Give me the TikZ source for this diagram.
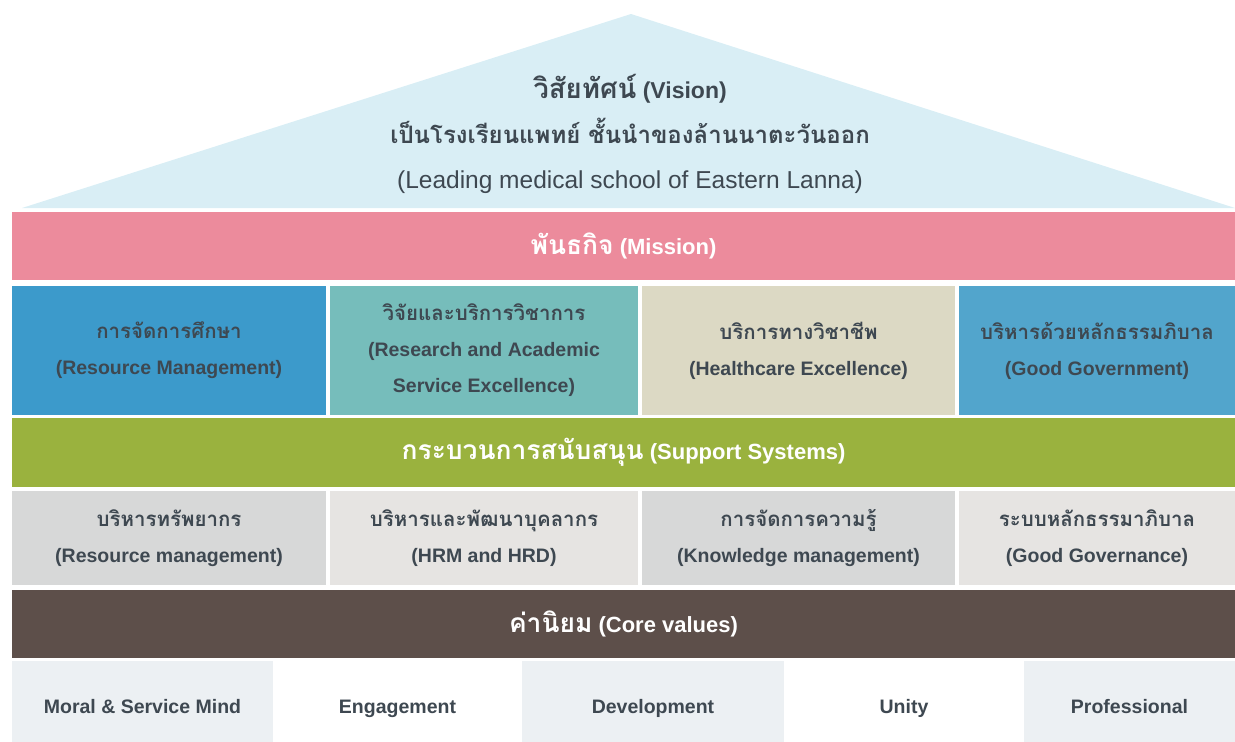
\documentclass[tikz,border=0pt]{standalone}
\usepackage{fontspec}
\setmainfont{Liberation Sans}
\newfontfamily\thaifont[Script=Thai,Scale=1.2]{Loma}
\newfontfamily\thaicell[Script=Thai,Scale=1.05]{Loma}
\newcommand\thx[1]{{\thaifont #1}}
\newcommand\thc[1]{{\thaicell #1}}
\definecolor{roofc}{HTML}{D9EEF5}
\definecolor{pinkc}{HTML}{EC8B9C}
\definecolor{blueA}{HTML}{3C9ACB}
\definecolor{tealc}{HTML}{76BDBB}
\definecolor{beigec}{HTML}{DCD9C4}
\definecolor{blueB}{HTML}{52A5CC}
\definecolor{greenc}{HTML}{9AB23E}
\definecolor{greyA}{HTML}{D7D8D8}
\definecolor{greyB}{HTML}{E6E4E2}
\definecolor{brownc}{HTML}{5D4F4A}
\definecolor{corel}{HTML}{ECF0F3}
\definecolor{txt}{HTML}{3E4851}
\begin{document}
\begin{tikzpicture}[x=1pt,y=-1pt,
  box/.style={inner sep=0pt, outer sep=0pt, align=center, text=txt,
    font=\fontsize{19.5}{36}\selectfont\bfseries},
  band/.style={box, text=white, minimum width=1223, font=\fontsize{22}{25}\selectfont\bfseries},
  mcell/.style={box, minimum height=129},
  scell/.style={box, minimum height=94},
  ccell/.style={box, minimum height=81, text height=23pt, text depth=0pt,
    font=\fontsize{19.5}{23}\selectfont\bfseries}
]
\useasboundingbox (0,0) rectangle (1235,742);
% roof
\coordinate (rl) at (22,208);
\coordinate (apex) at (631,14);
\coordinate (rr) at (1235,208);
\fill[roofc] (rl) -- (apex) -- (rr) -- cycle;
\node[box, font=\fontsize{24.5}{45}\selectfont] (vision) at (630,134)
  {{\bfseries\fontsize{23}{45}\selectfont\thx{วิสัยทัศน์} (Vision)}\\
   {\bfseries\fontsize{20}{45}\selectfont\thx{เป็นโรงเรียนแพทย์ ชั้นนำของล้านนาตะวันออก}}\\
   (Leading medical school of Eastern Lanna)};
% mission band
\node[band, fill=pinkc, minimum height=68] (mission) at (623.5,246) {\thx{พันธกิจ} (Mission)};
\node[mcell, fill=blueA, minimum width=314] (m1) at (169,350.5) {\thc{การจัดการศึกษา}\\(Resource Management)};
\node[mcell, fill=tealc, minimum width=308] (m2) at (484,350.5) {\thc{วิจัยและบริการวิชาการ}\\(Research and Academic\\Service Excellence)};
\node[mcell, fill=beigec, minimum width=313] (m3) at (798.5,350.5) {\thc{บริการทางวิชาชีพ}\\(Healthcare Excellence)};
\node[mcell, fill=blueB, minimum width=276] (m4) at (1097,350.5) {\thc{บริหารด้วยหลักธรรมภิบาล}\\(Good Government)};
% support band
\node[band, fill=greenc, minimum height=69] (support) at (623.5,452.5) {\thx{กระบวนการสนับสนุน} (Support Systems)};
\node[scell, fill=greyA, minimum width=314] (s1) at (169,538) {\thc{บริหารทรัพยากร}\\(Resource management)};
\node[scell, fill=greyB, minimum width=308] (s2) at (484,538) {\thc{บริหารและพัฒนาบุคลากร}\\(HRM and HRD)};
\node[scell, fill=greyA, minimum width=313] (s3) at (798.5,538) {\thc{การจัดการความรู้}\\(Knowledge management)};
\node[scell, fill=greyB, minimum width=276] (s4) at (1097,538) {\thc{ระบบหลักธรรมาภิบาล}\\(Good Governance)};
% core values band
\node[band, fill=brownc, minimum height=68] (core) at (623.5,624) {\thx{ค่านิยม} (Core values)};
\node[ccell, fill=corel, minimum width=261] (c1) at (142.5,701.5) {Moral \& Service Mind};
\node[ccell, fill=white, minimum width=249] (c2) at (397.5,701.5) {Engagement};
\node[ccell, fill=corel, minimum width=262] (c3) at (653,701.5) {Development};
\node[ccell, fill=white, minimum width=240] (c4) at (904,701.5) {Unity};
\node[ccell, fill=corel, minimum width=211] (c5) at (1129.5,701.5) {Professional};
\end{tikzpicture}
\end{document}
